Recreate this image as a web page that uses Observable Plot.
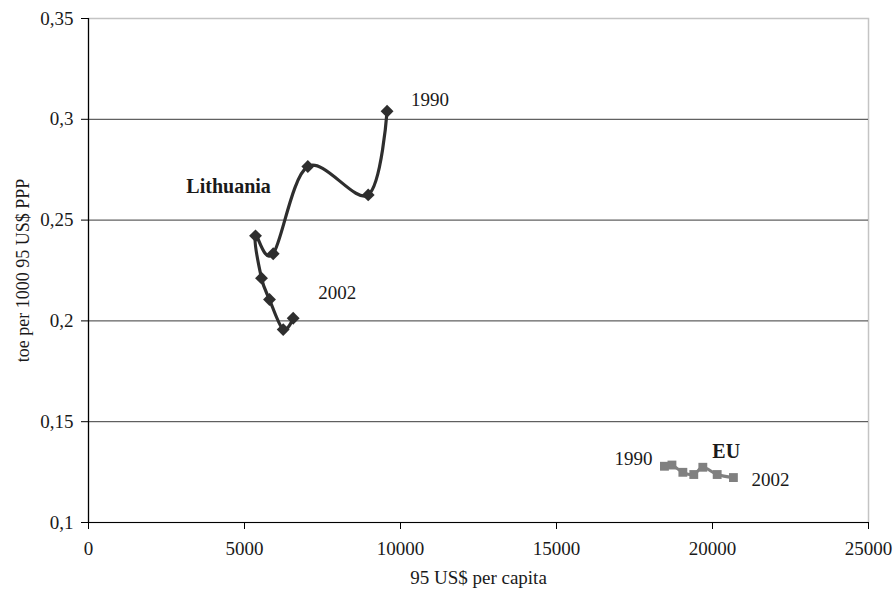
<!DOCTYPE html>
<html>
<head>
<meta charset="utf-8">
<script src="https://cdn.jsdelivr.net/npm/d3@7"></script>
<script src="https://cdn.jsdelivr.net/npm/@observablehq/plot@0.6"></script>
<style>
  body { margin: 0; background: #fff; }
  #chart svg { display: block; }
</style>
</head>
<body>
<div id="chart"></div>
<script>
// Energy intensity vs. GDP per capita, 1990 → 2002
const lithGdp = [9570, 8965, 7030, 5920, 5353, 5545, 5801, 6240, 6560];
const lithIntensity = [0.304, 0.2625, 0.2766, 0.2333, 0.2422, 0.2212, 0.2106, 0.1957, 0.2013];

const euGdp = [18460, 18700, 19050, 19400, 19690, 20150, 20670];
const euIntensity = [0.1279, 0.1285, 0.1249, 0.1238, 0.1274, 0.1238, 0.1223];

const xTicks = [0, 5000, 10000, 15000, 20000, 25000];
const yTicks = [0.1, 0.15, 0.2, 0.25, 0.3, 0.35];
const gridLevels = [0.15, 0.2, 0.25, 0.3];

const xTitle = "95 US$ per capita";
const yTitle = "toe per 1000 95 US$ PPP";
const startYear = "1990";
const endYear = "2002";

const lith = lithGdp.map((g, i) => ({gdp: g, intensity: lithIntensity[i]}));
const eu = euGdp.map((g, i) => ({gdp: g, intensity: euIntensity[i]}));

const serif = "'Liberation Serif', 'Times New Roman', Times, serif";
const textColor = "#1a1a1a";
const lithColor = "#2e2e2e";
const euColor = "#808080";

const chart = Plot.plot({
  width: 896,
  height: 594,
  marginLeft: 88,
  marginRight: 28,
  marginTop: 18,
  marginBottom: 72,
  style: {fontFamily: serif, fontSize: "19px", color: textColor, background: "#fff"},
  x: {domain: [0, 25000]},
  y: {domain: [0.1, 0.35]},
  marks: [
    Plot.frame({stroke: "#c4c4c4", strokeWidth: 1.5}),
    Plot.ruleY(gridLevels, {stroke: "#3a3a3a", strokeWidth: 1}),
    Plot.ruleX([0], {stroke: "#000", strokeWidth: 1.2}),
    Plot.ruleY([0.1], {stroke: "#000", strokeWidth: 1.2}),
    Plot.axisX(xTicks, {
      label: null, tickSize: 7, tickPadding: 12, tickFormat: d => String(d),
      stroke: "#000", fill: textColor
    }),
    Plot.axisY(yTicks, {
      label: null, tickSize: 7, tickPadding: 8,
      tickFormat: d => String(d).replace(".", ","),
      stroke: "#000", fill: textColor
    }),
    // axis titles
    Plot.text([xTitle], {frameAnchor: "bottom", dy: 61, fontSize: 19, fill: textColor}),
    Plot.text([yTitle], {frameAnchor: "left", textAnchor: "middle", rotate: -90, dx: -65, dy: 0, fontSize: 18, fill: textColor}),

    // Lithuania
    Plot.line(lith, {x: "gdp", y: "intensity", curve: "cardinal", stroke: lithColor, strokeWidth: 3.2}),
    Plot.dot(lith, {x: "gdp", y: "intensity", symbol: "diamond2", r: 5.8, fill: lithColor, stroke: "none"}),
    Plot.text([lith[0]], {x: "gdp", y: "intensity", text: () => startYear, textAnchor: "start", dx: 24, dy: -11, fill: textColor}),
    Plot.text([lith[lith.length - 1]], {x: "gdp", y: "intensity", text: () => endYear, textAnchor: "start", dx: 25, dy: -25, fill: textColor}),
    Plot.text(["Lithuania"], {x: [4490], y: [0.2667], text: d => d, fontWeight: "bold", fontSize: 20, fill: textColor}),

    // EU
    Plot.line(eu, {x: "gdp", y: "intensity", curve: "cardinal", stroke: euColor, strokeWidth: 3}),
    Plot.dot(eu, {x: "gdp", y: "intensity", symbol: "square", r: 5, fill: euColor, stroke: "none"}),
    Plot.text([eu[0]], {x: "gdp", y: "intensity", text: () => startYear, textAnchor: "end", dx: -12, dy: -7, fill: textColor}),
    Plot.text([eu[eu.length - 1]], {x: "gdp", y: "intensity", text: () => endYear, textAnchor: "start", dx: 18, dy: 2, fill: textColor}),
    Plot.text(["EU"], {x: [20440], y: [0.1354], text: d => d, fontWeight: "bold", fontSize: 20, fill: textColor})
  ]
});

document.getElementById("chart").append(chart);
</script>
</body>
</html>
